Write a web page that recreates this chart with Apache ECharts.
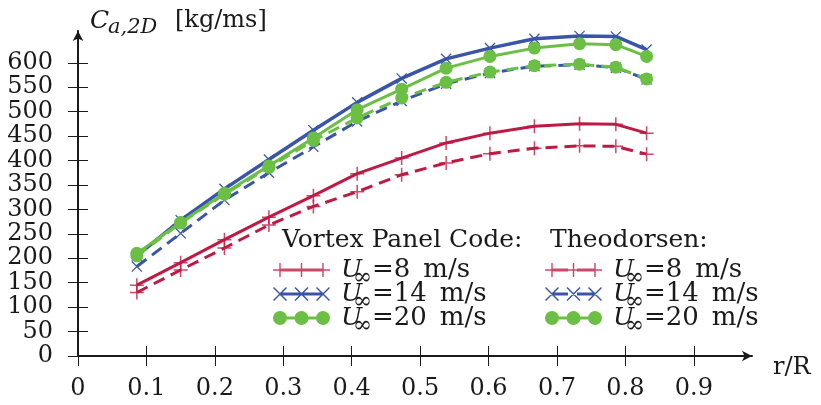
<!DOCTYPE html>
<html>
<head>
<meta charset="utf-8">
<script src="https://cdn.jsdelivr.net/npm/echarts@6/dist/echarts.min.js"></script>
<style>
  html, body { margin: 0; padding: 0; background: #fff; }
  #chart { width: 821px; height: 405px; }
</style>
</head>
<body>
<div id="chart"></div>
<script>
// Radial stations along the blade (r/R)
const rR = [0.086, 0.15, 0.214, 0.279, 0.344, 0.408, 0.473, 0.538, 0.602, 0.667, 0.733, 0.786, 0.831];

// Added-mass coefficient C_a,2D [kg/ms], vortex panel code
const vortex8  = [145, 191, 238, 284, 328, 373, 405, 436, 456, 470, 475, 474, 456];
const vortex14 = [205, 278, 342, 402, 462, 519, 568, 608, 630, 649, 655, 654, 627];
const vortex20 = [210, 273, 333, 389, 446, 504, 546, 589, 613, 630, 639, 637, 613];

// Same quantity from Theodorsen's theory
const theo8  = [130, 176, 221, 268, 306, 336, 371, 395, 414, 425, 430, 429, 413];
const theo14 = [183, 251, 319, 375, 428, 480, 522, 557, 579, 593, 596, 590, 566];
const theo20 = [205, 272, 331, 386, 441, 487, 528, 560, 581, 594, 597, 591, 567];

// Free-stream speeds [m/s]
const speeds = ['8', '14', '20'];

// Axis ticks
const xTicks = [0, 0.1, 0.2, 0.3, 0.4, 0.5, 0.6, 0.7, 0.8, 0.9];
const yTicks = [0, 50, 100, 150, 200, 250, 300, 350, 400, 450, 500, 550, 600];

const FONT = 'DejaVu Serif';
const INK = '#1a1a1a';
const RED = '#bf1a44';
const BLUE = '#3a55a8';
const GREEN = '#6bbf45';

// Marker shapes
const plusPath = 'path://M-0.75,-7h1.5v14h-1.5zM-7,-0.75h14v1.5h-14z';
const crossPath = 'path://M-5,-4.2L-4.2,-5L5,4.2L4.2,5ZM4.2,-5L5,-4.2L-4.2,5L-5,4.2Z';

// Legend icons (57 x 14): three markers joined by a thick line or dashes
const mk = [7, 28.5, 50];
function plusAt(cx) { return `M${cx - 0.7},0h1.4v14h-1.4zM${cx - 7},6.3h14v1.4h-14z`; }
function crossAt(cx) {
  return `M${cx - 7},1L${cx - 6},0L${cx + 7},13L${cx + 6},14Z` +
         `M${cx + 6},0L${cx + 7},1L${cx - 6},14L${cx - 7},13Z`;
}
function dotAt(cx) { return `M${cx - 7},7A7,7,0,1,1,${cx + 7},7A7,7,0,1,1,${cx - 7},7Z`; }
function bar(x0, x1) { return `M${x0},5.5h${x1 - x0}v3h${x0 - x1}z`; }
function icon(markFn, dashed) {
  let p = mk.map(markFn).join('');
  p += dashed ? bar(7, 23) + bar(32, 50) : bar(7, 50);
  return 'path://' + p;
}

function pairs(ys) { return rR.map((x, i) => [x, ys[i]]); }

function series(name, ys, color, symbol, size, dashed, width, markerOpacity) {
  return {
    name: name,
    type: 'line',
    data: pairs(ys),
    symbol: symbol,
    symbolSize: size,
    showSymbol: true,
    lineStyle: { color: color, width: width, type: dashed ? [12, 7] : 'solid' },
    itemStyle: { color: color, borderWidth: 0, opacity: markerOpacity },
    emphasis: { disabled: true },
    animation: false,
    clip: false
  };
}

const names = {
  v8: 'vortex 8', v14: 'vortex 14', v20: 'vortex 20',
  t8: 'theodorsen 8', t14: 'theodorsen 14', t20: 'theodorsen 20'
};

// Legend layout: icons come from the legend component, the U∞ labels are set as text next to them
const LEG_TOP = 263, LEG_ROW = 24, LEG_ICON_H = 14;

function legendBlock(left, items) {
  return {
    left: left, top: LEG_TOP, orient: 'vertical', padding: 0,
    itemWidth: 57, itemHeight: LEG_ICON_H, itemGap: LEG_ROW - LEG_ICON_H,
    selectedMode: false,
    itemStyle: { borderWidth: 0 },
    textStyle: { fontSize: 14, lineHeight: 14 },
    formatter: function () { return ''; },
    data: items
  };
}

function speedLabel(x, y, speed) {
  return [
    { type: 'text', x: x, y: y, style: { text: 'U', fontFamily: FONT, fontStyle: 'italic', fontSize: 25, fill: INK, verticalAlign: 'middle' } },
    { type: 'text', x: x + 12, y: y + 8, style: { text: '∞', fontFamily: FONT, fontSize: 23, fill: INK, verticalAlign: 'middle' } },
    { type: 'text', x: x + 31, y: y, style: { text: '=' + speed + '\u2002m/s', fontFamily: FONT, fontSize: 26, fill: INK, verticalAlign: 'middle' } }
  ];
}

const legendLabels = [];
speeds.forEach((s, i) => {
  const y = LEG_TOP + LEG_ICON_H / 2 + i * LEG_ROW;
  legendLabels.push(...speedLabel(341, y, s), ...speedLabel(613, y, s));
});

function axisTickSet(inside) {
  return { show: true, inside: inside, length: 10, lineStyle: { color: INK, width: 1 } };
}

const chart = echarts.init(document.getElementById('chart'), null, { renderer: 'canvas' });

chart.setOption({
  backgroundColor: '#fff',
  animation: false,
  grid: { left: 78, right: 69, top: 31, bottom: 49, containLabel: false },
  xAxis: [
    {
      type: 'value', min: 0, max: 0.985, position: 'bottom',
      axisLine: { show: true, onZero: false, symbol: ['none', 'arrow'], symbolSize: [8, 10], lineStyle: { color: INK, width: 2 } },
      axisTick: Object.assign(axisTickSet(false), { customValues: xTicks }),
      axisLabel: { customValues: xTicks, margin: 21, fontFamily: FONT, fontSize: 24, color: INK },
      splitLine: { show: false },
      name: 'r/R', nameLocation: 'end', nameGap: 21,
      nameTextStyle: { fontFamily: FONT, fontSize: 24, color: INK, verticalAlign: 'top', align: 'left' }
    },
    {
      type: 'value', min: 0, max: 0.985, position: 'bottom',
      axisLine: { show: false, onZero: false },
      axisTick: Object.assign(axisTickSet(true), { customValues: xTicks }),
      axisLabel: { show: false, customValues: xTicks },
      splitLine: { show: false }
    }
  ],
  yAxis: [
    {
      type: 'value', min: 0, max: 665, position: 'left',
      axisLine: { show: true, onZero: false, symbol: ['none', 'arrow'], symbolSize: [8, 10], lineStyle: { color: INK, width: 2 } },
      axisTick: Object.assign(axisTickSet(false), { customValues: yTicks }),
      axisLabel: { customValues: yTicks, margin: 25, fontFamily: FONT, fontSize: 24, color: INK },
      splitLine: { show: false }
    },
    {
      type: 'value', min: 0, max: 665, position: 'left',
      axisLine: { show: false, onZero: false },
      axisTick: Object.assign(axisTickSet(true), { customValues: yTicks }),
      axisLabel: { show: false, customValues: yTicks },
      splitLine: { show: false }
    }
  ],
  legend: [
    legendBlock(273, [
      { name: names.v8, icon: icon(plusAt, false) },
      { name: names.v14, icon: icon(crossAt, false) },
      { name: names.v20, icon: icon(dotAt, false) }
    ]),
    legendBlock(545, [
      { name: names.t8, icon: icon(plusAt, true) },
      { name: names.t14, icon: icon(crossAt, true) },
      { name: names.t20, icon: icon(dotAt, true) }
    ])
  ],
  graphic: [
    { type: 'text', x: 90, y: 21, style: { text: 'C', fontFamily: FONT, fontStyle: 'italic', fontSize: 25, fill: INK, verticalAlign: 'middle' } },
    { type: 'text', x: 108, y: 28, style: { text: 'a,2D', fontFamily: FONT, fontStyle: 'italic', fontSize: 21, fill: INK, verticalAlign: 'middle' } },
    { type: 'text', x: 175, y: 21, style: { text: '[kg/ms]', fontFamily: FONT, fontSize: 24, fill: INK, verticalAlign: 'middle' } },
    { type: 'text', x: 282, y: 240, style: { text: 'Vortex Panel Code:', fontFamily: FONT, fontSize: 25, fill: INK, verticalAlign: 'middle' } },
    { type: 'text', x: 550, y: 240, style: { text: 'Theodorsen:', fontFamily: FONT, fontSize: 25, fill: INK, verticalAlign: 'middle' } }
  ].concat(legendLabels),
  series: [
    series(names.t8, theo8, RED, plusPath, 14, true, 3, 0.8),
    series(names.v8, vortex8, RED, plusPath, 14, false, 3, 0.8),
    series(names.t14, theo14, BLUE, crossPath, 11, true, 3, 1),
    series(names.v14, vortex14, BLUE, crossPath, 11, false, 3.5, 1),
    series(names.t20, theo20, GREEN, 'circle', 13, true, 3, 1),
    series(names.v20, vortex20, GREEN, 'circle', 13, false, 3, 1)
  ]
});
</script>
</body>
</html>
